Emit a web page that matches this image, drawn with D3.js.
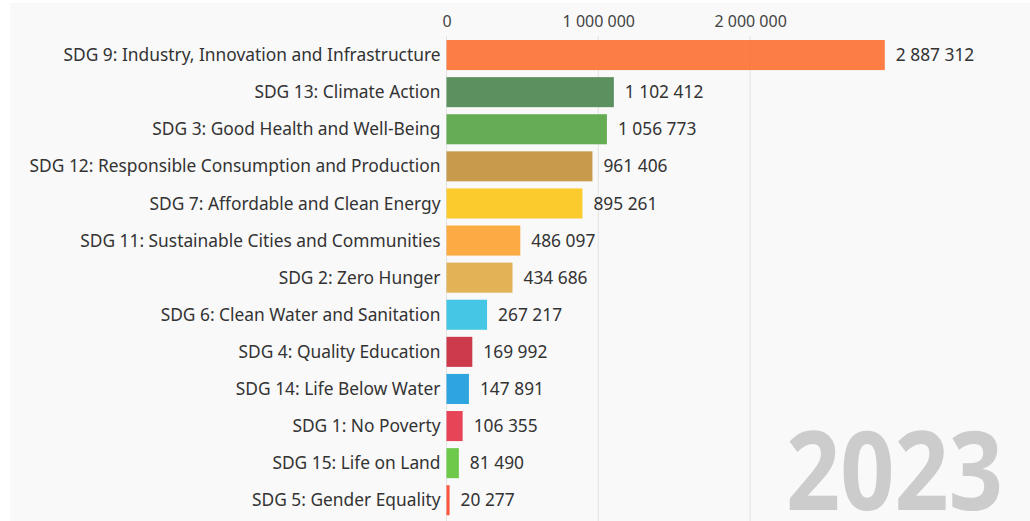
<!DOCTYPE html>
<html>
<head>
<meta charset="utf-8">
<script src="https://cdn.jsdelivr.net/npm/d3@7"></script>
<style>
  html, body { margin: 0; padding: 0; background: #fff; }
  svg { display: block; }
</style>
</head>
<body>
<div class="bar-chart"></div>
<script>
// data (year 2023)
const categories = [
  'SDG 9: Industry, Innovation and Infrastructure',
  'SDG 13: Climate Action',
  'SDG 3: Good Health and Well-Being',
  'SDG 12: Responsible Consumption and Production',
  'SDG 7: Affordable and Clean Energy',
  'SDG 11: Sustainable Cities and Communities',
  'SDG 2: Zero Hunger',
  'SDG 6: Clean Water and Sanitation',
  'SDG 4: Quality Education',
  'SDG 14: Life Below Water',
  'SDG 1: No Poverty',
  'SDG 15: Life on Land',
  'SDG 5: Gender Equality'
];
const values = [2887312, 1102412, 1056773, 961406, 895261, 486097, 434686, 267217, 169992, 147891, 106355, 81490, 20277];
const colors = ['#FD6925', '#3F7E44', '#4C9F38', '#BF8B2E', '#FCC30B', '#FD9D24', '#DDA63A', '#26BDE2', '#C5192D', '#0A97D9', '#E5243B', '#56C02B', '#FF3A21'];
const tickValues = [0, 1000000, 2000000];
const year = '2023';

const W = 1030, H = 521;
const fmt = v => d3.format(',')(v).replace(/,/g, ' ');

const svg = d3.select('.bar-chart').append('svg').attr('width', W).attr('height', H);

// title sits mostly above the frame, only descenders show
svg.append('text')
  .attr('x', 10).attr('y', -6)
  .attr('font-family', 'Liberation Serif, serif')
  .attr('font-size', 24)
  .attr('fill', '#111')
  .text('Funding by Sustainable Development Goal (2015 – 2023), top goals');

svg.append('rect')
  .attr('x', 10).attr('y', 3)
  .attr('width', W - 10).attr('height', H - 3)
  .attr('fill', '#f9f9f9');

const x = d3.scaleLinear().domain([0, 1000000]).range([446.5, 598.3]);
const y = d3.scaleBand().domain(categories).range([36.5, 36.5 + 13 * 37.1])
  .paddingInner(0.19).paddingOuter(0.095);

// gridlines
svg.append('g')
  .selectAll('line')
  .data(tickValues)
  .enter().append('line')
  .attr('x1', d => x(d)).attr('x2', d => x(d))
  .attr('y1', 36).attr('y2', H)
  .attr('stroke', '#e2e2e2').attr('stroke-width', 1);

// top axis labels
const ax = svg.append('g')
  .attr('transform', 'translate(0,27)')
  .call(d3.axisTop(x).tickValues(tickValues).tickFormat(fmt).tickSize(0).tickPadding(0));
ax.select('.domain').remove();
ax.selectAll('text')
  .attr('font-family', 'Noto Sans, sans-serif')
  .attr('font-size', 16)
  .attr('fill', '#444');

// big year, a bit condensed
svg.append('text')
  .attr('transform', 'translate(1003,510) scale(0.87,1)')
  .attr('text-anchor', 'end')
  .attr('font-family', 'Noto Sans, sans-serif')
  .attr('font-weight', 700)
  .attr('font-size', 109)
  .attr('fill', '#cccccc')
  .text(year);

const rows = svg.append('g')
  .selectAll('g')
  .data(categories)
  .enter().append('g');

rows.append('rect')
  .attr('x', x(0))
  .attr('y', d => y(d))
  .attr('width', (d, i) => x(values[i]) - x(0))
  .attr('height', y.bandwidth())
  .attr('fill', (d, i) => colors[i])
  .attr('fill-opacity', 0.85);

rows.append('text')
  .attr('x', x(0) - 6)
  .attr('y', d => y(d) + y.bandwidth() / 2)
  .attr('dy', '0.35em')
  .attr('text-anchor', 'end')
  .attr('font-family', 'Noto Sans, sans-serif')
  .attr('font-size', 17.35)
  .attr('fill', '#333')
  .text(d => d);

rows.append('text')
  .attr('x', (d, i) => x(values[i]) + 11)
  .attr('y', d => y(d) + y.bandwidth() / 2)
  .attr('dy', '0.35em')
  .attr('font-family', 'Noto Sans, sans-serif')
  .attr('font-size', 17.35)
  .attr('fill', '#333')
  .text((d, i) => fmt(values[i]));
</script>
</body>
</html>
